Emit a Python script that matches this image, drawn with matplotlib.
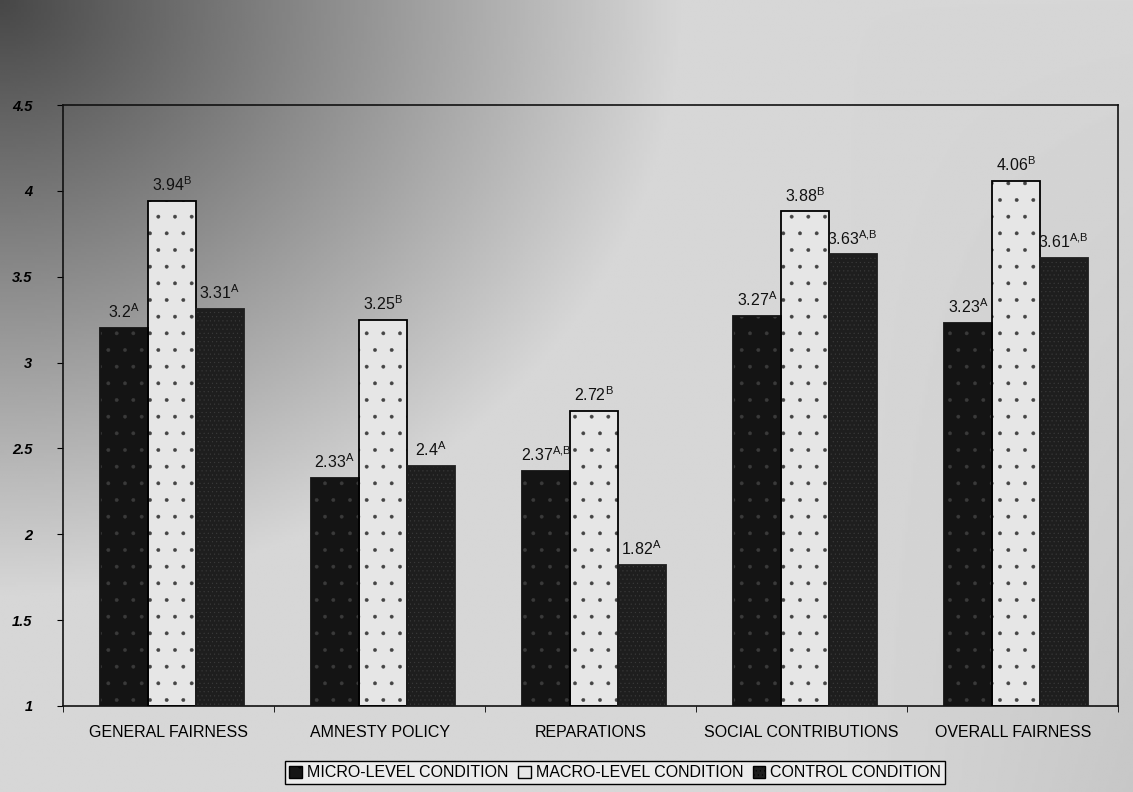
import numpy as np
import matplotlib
matplotlib.use("Agg")
import matplotlib.pyplot as plt
from matplotlib.patches import Patch

plt.rcParams["font.family"] = ["Liberation Sans", "DejaVu Sans"]
plt.rcParams["mathtext.fontset"] = "custom"
plt.rcParams["mathtext.rm"] = "Liberation Sans"
plt.rcParams["mathtext.it"] = "Liberation Sans"
plt.rcParams["hatch.linewidth"] = 0.3

# data
categories = ["GENERAL FAIRNESS", "AMNESTY POLICY", "REPARATIONS",
              "SOCIAL CONTRIBUTIONS", "OVERALL FAIRNESS"]
series_names = ["MICRO-LEVEL CONDITION", "MACRO-LEVEL CONDITION", "CONTROL CONDITION"]
micro = [3.2, 2.33, 2.37, 3.27, 3.23]
macro = [3.94, 3.25, 2.72, 3.88, 4.06]
control = [3.31, 2.4, 1.82, 3.63, 3.61]
micro_sup = ["A", "A", "A,B", "A", "A"]
macro_sup = ["B", "B", "B", "B", "B"]
control_sup = ["A", "A", "A", "A,B", "A,B"]
yticks = [1, 1.5, 2, 2.5, 3, 3.5, 4, 4.5]

fig = plt.figure(figsize=(11.33, 7.92), dpi=100)

# photographed-page look: dark top-left fading to light grey
bg = fig.add_axes([0, 0, 1, 1], zorder=-10)
xx, tt = np.meshgrid(np.linspace(0, 1, 400), np.linspace(0, 1, 300))
lum = 0.28 + 0.56 * np.clip(np.sqrt((xx / 0.6) ** 2 + (tt / 0.75) ** 2), 0, 1)
lum -= 0.06 * np.clip((xx - 0.75) / 0.25, 0, 1) * tt
bg.imshow(lum, cmap="gray", vmin=0, vmax=1, aspect="auto", extent=[0, 1, 0, 1])
bg.axis("off")

ax = fig.add_axes([0.0556, 0.1086, 0.9314, 0.7588])
ax.patch.set_alpha(0)

x = np.arange(len(categories))
w = 0.227
styles = [
    dict(face="#141414", hatch=".", hcolor="#3a3a3a", edge="#141414"),
    dict(face="#e6e6e6", hatch=".", hcolor="#444444", edge="black"),
    dict(face="#1e1e1e", hatch="....", hcolor="#3c3c3c", edge="#1e1e1e"),
]
all_vals = [micro, macro, control]
all_sups = [micro_sup, macro_sup, control_sup]

for i, (vals, sups, st) in enumerate(zip(all_vals, all_sups, styles)):
    pos = x + (i - 1) * w + 0.015
    heights = np.array(vals) - 1
    ax.bar(pos, heights, w, bottom=1, color=st["face"], edgecolor=st["hcolor"],
           hatch=st["hatch"], linewidth=0, zorder=2)
    ax.bar(pos, heights, w, bottom=1, fill=False, edgecolor=st["edge"],
           linewidth=1.3, zorder=3)
    for p, v, s in zip(pos, vals, sups):
        sup = s.replace(",", "{,}")
        ax.text(p, v + 0.04, f"{v:g}$^{{\\mathrm{{{sup}}}}}$", ha="center",
                va="bottom", fontsize=11.5, color="#111111", zorder=4)

ax.set_xlim(-0.5, len(categories) - 0.5)
ax.set_ylim(1, 4.5)
ax.set_yticks(yticks)
ax.set_yticklabels([f"{t:g}" for t in yticks], fontsize=10.5,
                   fontweight="bold", fontstyle="italic")
ax.set_xticks(x)
ax.set_xticklabels(categories, fontsize=11.5)
ax.set_xticks(np.arange(len(categories) + 1) - 0.5, minor=True)
ax.tick_params(axis="x", which="major", length=0, pad=14)
ax.tick_params(axis="x", which="minor", length=4, direction="out")
ax.tick_params(axis="y", length=4, direction="out", pad=18)
for sp in ax.spines.values():
    sp.set_linewidth(1.2)
    sp.set_color("#111111")

handles = [Patch(facecolor=st["face"], edgecolor="black", hatch=st["hatch"])
           for st in styles]
leg = fig.legend(handles, series_names, loc="center", bbox_to_anchor=(0.543, 0.024),
                 ncol=3, fontsize=11.5, frameon=True, fancybox=False,
                 edgecolor="black", facecolor="#ececec", framealpha=1,
                 handlelength=0.8, handleheight=0.8, handletextpad=0.3,
                 columnspacing=0.6, borderpad=0.25, borderaxespad=0)

fig.savefig("out.png", dpi=100)
